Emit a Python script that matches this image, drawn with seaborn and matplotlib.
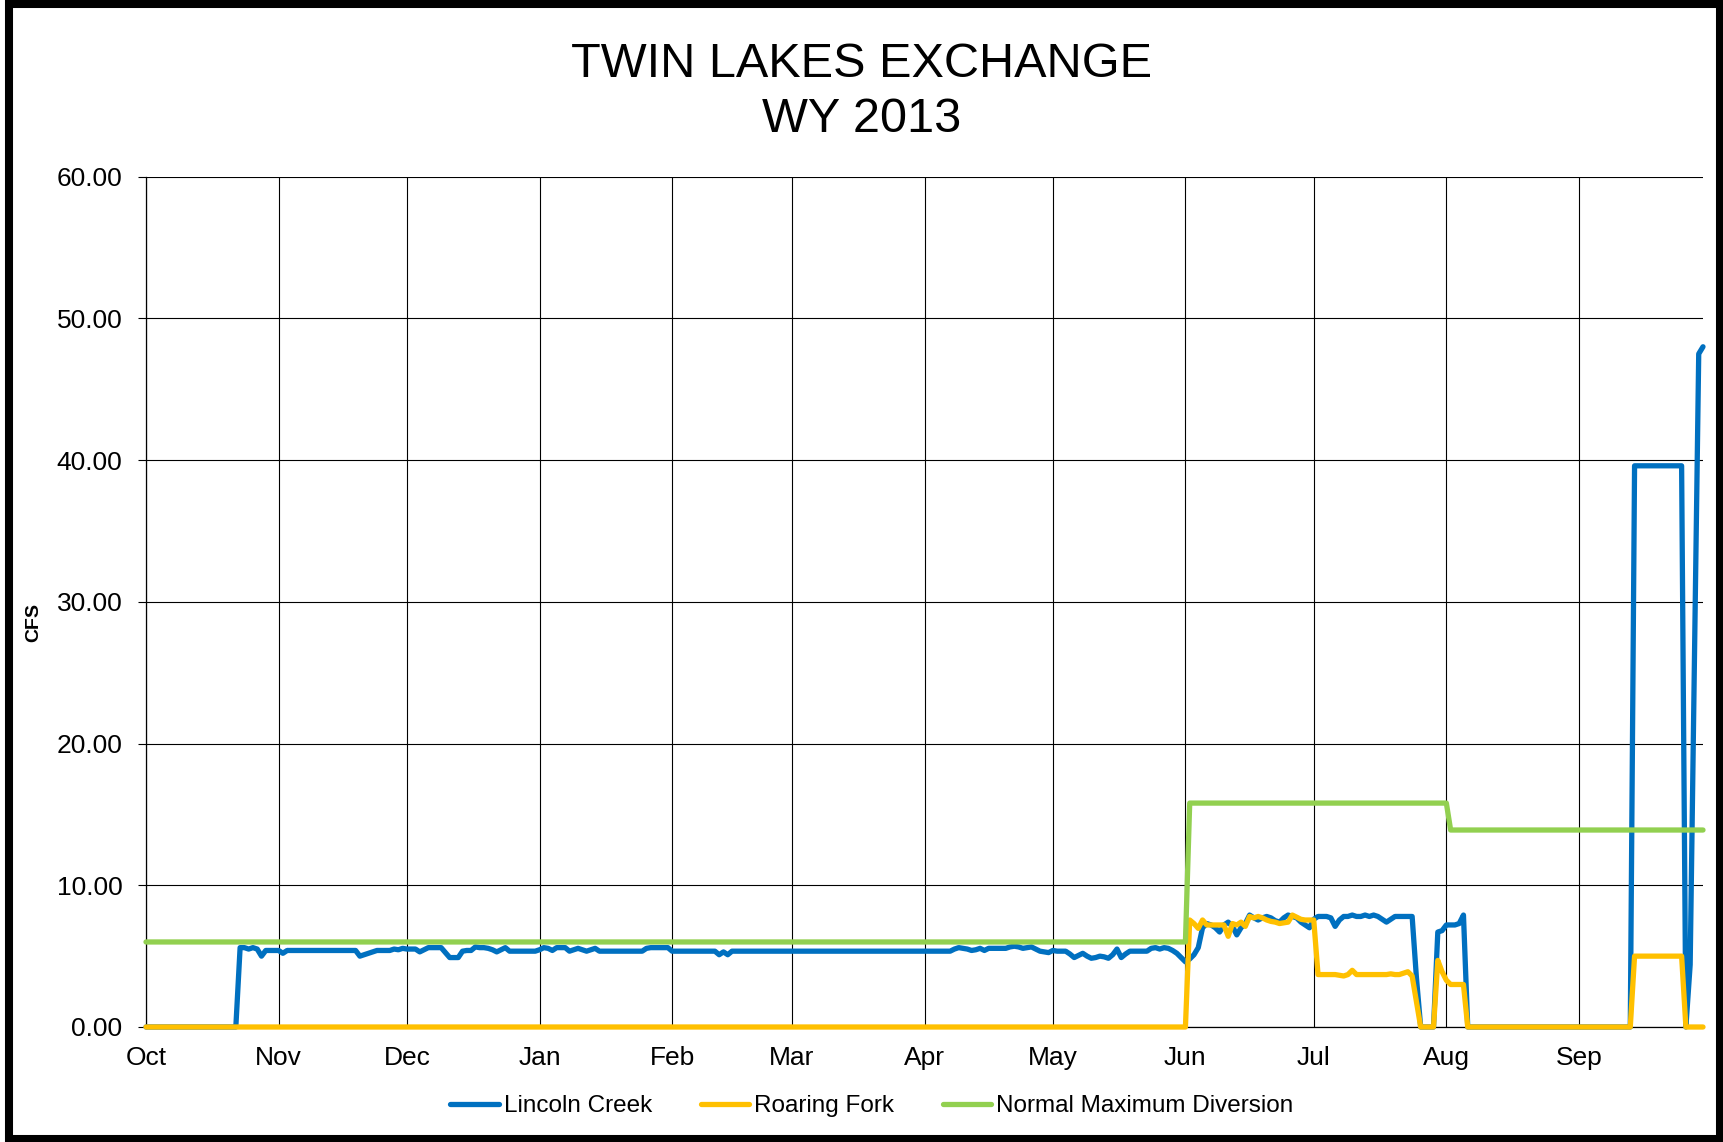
import numpy as np
import pandas as pd
import matplotlib
matplotlib.use("Agg")
import matplotlib.pyplot as plt
import matplotlib.dates as mdates
from matplotlib.patches import Rectangle
from matplotlib.ticker import FormatStrFormatter
import seaborn as sns

# ---- Daily flows (cfs), water year Oct 2012 - Sep 2013 ----
lincoln_oct = [0.0] * 22 + [5.6, 5.6, 5.5, 5.6, 5.5, 5.0, 5.4, 5.4, 5.4]
lincoln_nov = [5.4, 5.2] + [5.4] * 17 + [5.0, 5.1, 5.2, 5.3] + [5.4] * 4 + [5.5, 5.45, 5.55]
lincoln_dec = [5.5, 5.5, 5.5, 5.3, 5.45, 5.6, 5.6, 5.6, 5.6, 5.25, 4.9, 4.9, 4.9,
               5.35, 5.4, 5.4, 5.65, 5.6, 5.6, 5.55, 5.45, 5.3, 5.45, 5.6, 5.35] + [5.35] * 6
lincoln_jan = [5.45, 5.6, 5.55, 5.4, 5.6, 5.6, 5.6, 5.35, 5.45, 5.55, 5.45, 5.35, 5.45,
               5.55] + [5.35] * 11 + [5.55] + [5.6] * 5
lincoln_feb = [5.35] * 11 + [5.1, 5.3, 5.1] + [5.35] * 14
lincoln_mar = [5.35] * 31
lincoln_apr = [5.35] * 7 + [5.5, 5.6, 5.55, 5.5, 5.4, 5.45, 5.55, 5.4, 5.55, 5.55, 5.55,
                            5.55, 5.55, 5.65, 5.7, 5.65, 5.55, 5.6, 5.65, 5.5, 5.35, 5.3, 5.25]
lincoln_may = [5.4, 5.35, 5.35, 5.35, 5.15, 4.9, 5.05, 5.2, 5.0, 4.85, 4.9, 5.0, 4.95,
               4.85, 5.1, 5.5, 4.9, 5.15, 5.35, 5.35, 5.35, 5.35, 5.35, 5.55, 5.6, 5.5,
               5.6, 5.55, 5.4, 5.2, 4.9]
lincoln_jun = [4.6, 4.8, 5.1, 5.6, 7.0, 7.3, 7.2, 7.0, 6.7, 7.2, 7.4, 7.1, 6.5, 7.0, 7.3,
               7.9, 7.7, 7.55, 7.7, 7.8, 7.7, 7.5, 7.4, 7.7, 7.9, 7.8, 7.7, 7.4, 7.2, 7.0]
lincoln_jul = [7.6, 7.8, 7.8, 7.8, 7.7, 7.1, 7.55, 7.8, 7.8, 7.9, 7.8, 7.8, 7.9, 7.8, 7.9,
               7.8, 7.6, 7.4, 7.6, 7.8, 7.8, 7.8, 7.8, 7.8, 3.5, 0.0, 0.0, 0.0, 0.0, 6.7, 6.8]
lincoln_aug = [7.2, 7.2, 7.2, 7.3, 7.9] + [0.0] * 26
lincoln_sep = [0.0] * 13 + [39.6] * 12 + [0.0, 4.4, 26.0, 47.5, 48.0]

roaring_oct_may = [0.0] * 243
roaring_jun = [0.0, 7.55, 7.3, 6.96, 7.55, 7.2, 7.2, 7.2, 7.2, 7.2, 6.4, 7.3, 7.2, 7.4, 7.1,
               7.8, 7.7, 7.8, 7.7, 7.55, 7.45, 7.4, 7.3, 7.35, 7.4, 7.9, 7.75, 7.6, 7.55, 7.55]
roaring_jul = [7.55, 3.7, 3.7, 3.7, 3.7, 3.7, 3.65, 3.6, 3.7, 4.0, 3.7] + [3.7] * 7 + \
              [3.75, 3.7, 3.7, 3.8, 3.9, 3.6, 1.8, 0.0, 0.0, 0.0, 0.0, 4.7, 3.9]
roaring_aug = [3.3, 3.0, 3.0, 3.0, 3.0] + [0.0] * 26
roaring_sep = [0.0] * 13 + [5.0] * 12 + [0.0] * 5

normal_oct_jun1 = [6.0] * 244
normal_jun_jul = [15.8] * 61
normal_aug_sep = [13.9] * 60

series_names = ["Lincoln Creek", "Roaring Fork", "Normal Maximum Diversion"]
series_colors = ["#0070C0", "#FFC000", "#92D050"]
y_ticks = [0, 10, 20, 30, 40, 50, 60]

lincoln = (lincoln_oct + lincoln_nov + lincoln_dec + lincoln_jan + lincoln_feb + lincoln_mar
           + lincoln_apr + lincoln_may + lincoln_jun + lincoln_jul + lincoln_aug + lincoln_sep)
roaring = roaring_oct_may + roaring_jun + roaring_jul + roaring_aug + roaring_sep
normal = normal_oct_jun1 + normal_jun_jul + normal_aug_sep

dates = pd.date_range("2012-10-01", "2013-09-30", freq="D")
df = pd.concat([
    pd.DataFrame({"date": dates, "cfs": vals, "series": name})
    for name, vals in zip(series_names, [lincoln, roaring, normal])
], ignore_index=True)

# ---- Style ----
sns.set_style("white")
plt.rcParams["font.family"] = ["Liberation Sans", "DejaVu Sans"]
plt.rcParams["text.color"] = "black"
plt.rcParams["axes.labelcolor"] = "black"
plt.rcParams["xtick.color"] = "black"
plt.rcParams["ytick.color"] = "black"
plt.rcParams["lines.solid_joinstyle"] = "round"
plt.rcParams["lines.solid_capstyle"] = "round"

W, H = 1724, 1142
fig = plt.figure(figsize=(W / 100, H / 100), dpi=100)
ax = fig.add_axes([146 / W, 1 - 1027 / H, (1703 - 146) / W, (1027 - 176.7) / H])

sns.lineplot(data=df, x="date", y="cfs", hue="series", hue_order=series_names,
             palette=dict(zip(series_names, series_colors)), linewidth=3.8,
             estimator=None, sort=True, ax=ax)
# series sit above the axis lines, drawn in legend order
for i, line in enumerate(ax.lines):
    line.set_clip_on(False)
    line.set_zorder(3 + i * 0.1)

ax.set_xlim(dates[0], dates[-1])
ax.set_ylim(0, 60)
ax.set_yticks(y_ticks)
ax.yaxis.set_major_formatter(FormatStrFormatter("%.2f"))
ax.xaxis.set_major_locator(mdates.MonthLocator())
ax.xaxis.set_major_formatter(mdates.DateFormatter("%b"))

ax.grid(True, color="black", linewidth=0.8)
ax.set_axisbelow(True)
for side in ["top", "right"]:
    ax.spines[side].set_visible(False)
for side in ["left", "bottom"]:
    ax.spines[side].set_color("black")
    ax.spines[side].set_linewidth(0.9)
    ax.spines[side].set_zorder(1)

ax.tick_params(axis="y", which="major", length=6, width=0.8, color="black",
               labelcolor="black", direction="out", pad=11, labelsize=19, left=True)
ax.tick_params(axis="x", which="major", length=0, pad=14, labelsize=19, labelcolor="black")
ax.set_xlabel("")
ax.set_ylabel("")

fig.text(34 / W, 1 - 622 / H, "CFS", rotation=90, ha="center", va="center",
         fontsize=14, fontweight="bold", color="black")
fig.text(0.5, 1 - 77 / H, "TWIN LAKES EXCHANGE", ha="center", va="baseline",
         fontsize=35, color="black")
fig.text(0.5, 1 - 132 / H, "WY 2013", ha="center", va="baseline", fontsize=35,
         color="black")

sns.move_legend(ax, "center", bbox_to_anchor=(872 / W, 1 - 1106 / H),
                bbox_transform=fig.transFigure, ncol=3, frameon=False, title=None,
                fontsize=17.5, handlelength=2.0, handletextpad=0.2, columnspacing=2.0)
for txt in ax.get_legend().get_texts():
    txt.set_color("black")

# Outer chart frame
fig.patches.append(Rectangle((9 / W, 3.5 / H), (1720.5 - 9) / W, (H - 7) / H,
                             transform=fig.transFigure, fill=False, ec="black",
                             lw=5.8, zorder=10))

fig.savefig("out.png", dpi=100)
